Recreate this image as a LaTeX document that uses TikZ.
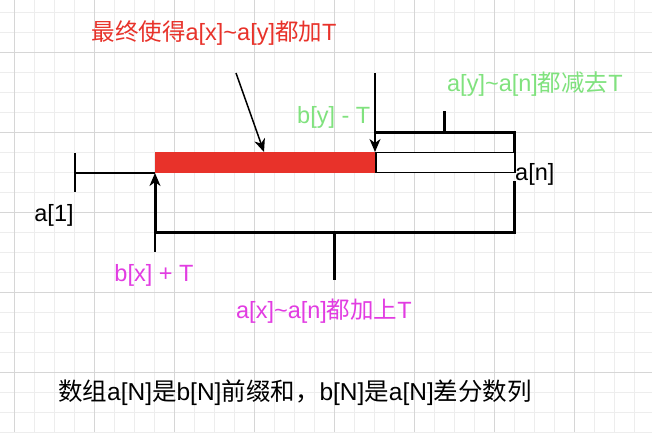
\documentclass[tikz,border=0pt]{standalone}
\usepackage{fontspec}
\setmainfont{Liberation Sans}
\newfontfamily\cjk{Noto Sans CJK SC}
\usetikzlibrary{arrows.meta}
\definecolor{barred}{HTML}{E8322A}
\definecolor{lgreen}{HTML}{80E27E}
\definecolor{mag}{HTML}{E23CE2}
\definecolor{gminor}{HTML}{EDEDED}
\definecolor{gmajor}{HTML}{D6D6D6}
\tikzset{
  thinln/.style={line width=1.5pt, draw=black},
  thickln/.style={line width=3pt, draw=black},
  arr/.style={-{Stealth[length=13pt,width=11pt,inset=4pt]}},
  lbl/.style={inner sep=0pt, anchor=center, font=\fontsize{23.5}{25}\selectfont}
}
\begin{document}
\begin{tikzpicture}[x=1pt,y=-1pt]
\useasboundingbox (0,0) rectangle (652,432);
\fill[white] (0,0) rectangle (652,432);
% grid
\foreach \i in {0,...,32} {\draw[gminor, line width=0.8pt] ({14+20*\i},0) -- ({14+20*\i},432);}
\foreach \i in {0,...,21} {\draw[gminor, line width=0.8pt] (0,{12+20*\i}) -- (652,{12+20*\i});}
\foreach \i in {0,...,8} {\draw[gmajor, line width=0.8pt] ({14+80*\i},0) -- ({14+80*\i},432);}
\foreach \i in {0,...,4} {\draw[gmajor, line width=0.8pt] (0,{52+80*\i}) -- (652,{52+80*\i});}

% coordinates
\coordinate (lt1) at (75,153);
\coordinate (lt2) at (75,192);
\coordinate (l0) at (75,173);
\coordinate (xs) at (155,173);
\coordinate (ys) at (375,173);
\coordinate (ytop) at (375,152);
\coordinate (xb) at (155,232);
\coordinate (xbb) at (155,252);
\coordinate (rb) at (514,232);
\coordinate (rbt) at (514,182);
\coordinate (mb) at (334,232);
\coordinate (mbb) at (334,280);
\coordinate (ut) at (375,132);
\coordinate (urt) at (514,132);
\coordinate (urb) at (514,152);
\coordinate (mt) at (444,132);
\coordinate (mtt) at (444,111);
\coordinate (a1s) at (236,73);
\coordinate (a1e) at (264,152);
\coordinate (a2s) at (375,73);

% red bar and white bar
\node[fill=barred, draw=none, minimum width=220pt, minimum height=21pt, inner sep=0pt, anchor=south west] (red) at (xs) {};
\node[fill=white, thinln, minimum width=139pt, minimum height=20pt, inner sep=0pt, anchor=south west] (wbar) at (ys) {};

% left tick
\draw[thinln] (lt1) -- (lt2);
\draw[thinln] (l0) -- (xs);

% bottom bracket
\draw[thinln] (xb) -- (xbb);
\draw[thickln, line cap=rect] (rbt) -- (rb) -- (xb);
\draw[thickln, arr] (xb) -- (xs);
\draw[thickln] (mb) -- (mbb);

% top bracket
\draw[thickln] (ut) -- (urt) -- (urb);
\draw[thickln] (mt) -- (mtt);
\draw[thinln, arr] (a2s) -- (ytop);
\draw[thinln, arr] (a1s) -- (a1e);

% labels
\node[lbl, text=barred] (t1) at (214,33) {{\cjk 最终使得}a[x]\textasciitilde a[y]{\cjk 都加}T};
\node[lbl, text=lgreen, anchor=west] (t2) at (297,117) {b[y] - T};
\node[lbl, text=lgreen] (t3) at (535,84) {a[y]\textasciitilde a[n]{\cjk 都减去}T};
\node[lbl, text=black, anchor=west] (t4) at (515,174) {a[n]};
\node[lbl, text=black] (t5) at (54,215) {a[1]};
\node[lbl, text=mag] (t6) at (154,275) {b[x] + T};
\node[lbl, text=mag] (t7) at (324,311) {a[x]\textasciitilde a[n]{\cjk 都加上}T};
\node[lbl, text=black, font=\fontsize{24.5}{26}\selectfont] (t8) at (295,393) {{\cjk 数组}a[N]{\cjk 是}b[N]{\cjk 前缀和，}b[N]{\cjk 是}a[N]{\cjk 差分数列}};
\end{tikzpicture}
\end{document}
